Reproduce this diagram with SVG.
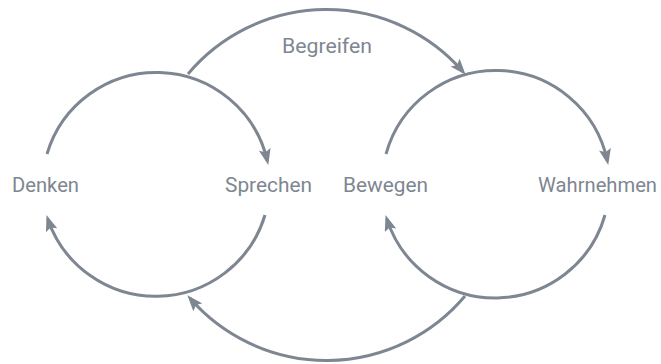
<svg xmlns="http://www.w3.org/2000/svg" width="661" height="364" viewBox="0 0 661 364">
<style>
.arc{fill:none;stroke:#7e8691;stroke-width:3}
.lbl{font-family:Roboto,"Liberation Sans",sans-serif;font-size:20px;fill:#7e8691}
</style>
<defs>
<marker id="ah" markerUnits="userSpaceOnUse" markerWidth="16" markerHeight="12" viewBox="0 0 16 12" refX="12" refY="6" orient="auto">
<path d="M0,0 L16,6 L0,12 L3,6 z" fill="#7e8691"/>
</marker>
</defs>
<rect width="661" height="364" fill="#ffffff"/>
<g id="connectors">
<path class="arc" d="M47,154 A114,114 0 0 1 267.4,161" marker-end="url(#ah)"/>
<path class="arc" d="M265,215 A114,114 0 0 1 47.8,218.9" marker-end="url(#ah)"/>
<path class="arc" d="M386,154 A114,114 0 0 1 607.4,161" marker-end="url(#ah)"/>
<path class="arc" d="M605,215 A114,114 0 0 1 386.8,218.9" marker-end="url(#ah)"/>
<path class="arc" d="M188,74 A181,181 0 0 1 463,71.7" marker-end="url(#ah)"/>
<path class="arc" d="M465,296 A181,181 0 0 1 190,298.3" marker-end="url(#ah)"/>
</g>
<g id="denken"><text class="lbl" x="12" y="192" textLength="67" lengthAdjust="spacingAndGlyphs">Denken</text></g>
<g id="sprechen"><text class="lbl" x="225" y="192" textLength="87" lengthAdjust="spacingAndGlyphs">Sprechen</text></g>
<g id="bewegen"><text class="lbl" x="343" y="192" textLength="85" lengthAdjust="spacingAndGlyphs">Bewegen</text></g>
<g id="wahrnehmen"><text class="lbl" x="538" y="192" textLength="119" lengthAdjust="spacingAndGlyphs">Wahrnehmen</text></g>
<g id="begreifen"><text class="lbl" x="282" y="53" textLength="90" lengthAdjust="spacingAndGlyphs">Begreifen</text></g>
</svg>
